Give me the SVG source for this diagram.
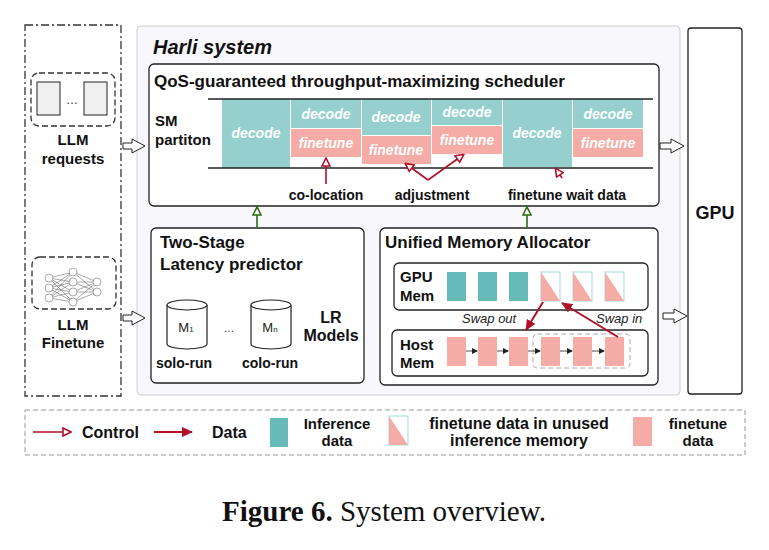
<svg xmlns="http://www.w3.org/2000/svg" width="769" height="550" viewBox="0 0 769 550">
<defs>
<style>
.t{font-family:"Liberation Sans",Arial,sans-serif;font-weight:bold;fill:#111}
.wi{font-family:"Liberation Sans",Arial,sans-serif;font-weight:bold;font-style:italic;fill:#fff;font-size:14px}
.box{fill:#fff;stroke:#222;stroke-width:1.3}
.tl{fill:#95d0cf}.pk{fill:#f5aba6}.td{fill:#66bbb8}
.hol{fill:#fff;stroke:#222;stroke-width:1}
</style>
<marker id="ho" markerWidth="10" markerHeight="10" refX="8" refY="5" orient="auto" markerUnits="userSpaceOnUse"><path d="M1,1 L9,5 L1,9 Z" fill="#fff" stroke="#b0102a" stroke-width="1.6"/></marker>
<marker id="hg" markerWidth="10" markerHeight="10" refX="8" refY="5" orient="auto" markerUnits="userSpaceOnUse"><path d="M1,1 L9,5 L1,9 Z" fill="#fff" stroke="#2e6b12" stroke-width="1.6"/></marker>
<marker id="fd" markerWidth="12" markerHeight="10" refX="10" refY="5" orient="auto" markerUnits="userSpaceOnUse"><path d="M0,0 L11,5 L0,10 Z" fill="#b0102a"/></marker>
<marker id="sm" markerWidth="6" markerHeight="6" refX="5" refY="3" orient="auto" markerUnits="userSpaceOnUse"><path d="M0,0 L6,3 L0,6 Z" fill="#222"/></marker>
</defs>
<rect width="769" height="550" fill="#fff"/>
<g id="inputs">
<rect x="25" y="25" width="96" height="371" fill="none" stroke="#333" stroke-width="1.3" stroke-dasharray="8,3,2,3"/>
<rect x="31" y="73" width="84" height="53" rx="8" fill="none" stroke="#333" stroke-width="1.3" stroke-dasharray="6,3"/>
<rect x="37" y="82" width="23" height="33" fill="#f0f0f0" stroke="#222"/>
<rect x="84" y="82" width="23" height="33" fill="#f0f0f0" stroke="#222"/>
<text x="72" y="104" font-family="Liberation Sans,sans-serif" font-size="12" text-anchor="middle" fill="#333">…</text>
<text class="t" x="73" y="145" font-size="15" text-anchor="middle">LLM</text>
<text class="t" x="73" y="164" font-size="15" text-anchor="middle">requests</text>
<rect x="32" y="257" width="84" height="52" rx="8" fill="none" stroke="#333" stroke-width="1.3" stroke-dasharray="6,3"/>
<g stroke="#555" stroke-width="0.5" fill="#fff">
<path d="M49,278 L73,272 M49,278 L73,282 M49,278 L73,292 M49,288 L73,272 M49,288 L73,282 M49,288 L73,292 M49,288 L73,302 M49,298 L73,282 M49,298 L73,292 M49,298 L73,302 M49,278 L73,302 M49,298 L73,272 M73,272 L97,282 M73,282 L97,282 M73,292 L97,282 M73,302 L97,282 M73,272 L97,292 M73,282 L97,292 M73,292 L97,292 M73,302 L97,292"/>
<circle cx="49" cy="278" r="4"/><circle cx="49" cy="288" r="4"/><circle cx="49" cy="298" r="4"/>
<circle cx="73" cy="272" r="4"/><circle cx="73" cy="282" r="4"/><circle cx="73" cy="292" r="4"/><circle cx="73" cy="302" r="4"/>
<circle cx="97" cy="282" r="4"/><circle cx="97" cy="292" r="4"/>
</g>
<text class="t" x="73" y="330" font-size="15" text-anchor="middle">LLM</text>
<text class="t" x="73" y="348" font-size="15" text-anchor="middle">Finetune</text>
</g>
<g id="harli">
<rect x="137" y="26" width="543" height="369" rx="4" fill="#f8f7fc" stroke="#ccc" stroke-width="1"/>
<text class="t" x="153" y="54" font-size="20" font-style="italic">Harli system</text>
</g>
<g id="scheduler">
<rect class="box" x="149" y="64" width="510" height="142" rx="5"/>
<text class="t" x="154" y="87" font-size="17">QoS-guaranteed throughput-maximizing scheduler</text>
<text class="t" x="155" y="126" font-size="15">SM</text>
<text class="t" x="155" y="145" font-size="15">partiton</text>
<rect class="tl" x="222" y="99" width="68" height="69"/>
<rect class="tl" x="291" y="99" width="70" height="29"/><rect class="pk" x="291" y="129" width="70" height="28"/>
<rect class="tl" x="362" y="99" width="69" height="36"/><rect class="pk" x="362" y="136" width="69" height="28"/>
<rect class="tl" x="432" y="99" width="70" height="26"/><rect class="pk" x="432" y="126" width="70" height="28"/>
<rect class="tl" x="503" y="99" width="69" height="68"/>
<rect class="tl" x="573" y="99" width="70" height="29"/><rect class="pk" x="573" y="129" width="70" height="28"/>
<line x1="208" y1="99" x2="653" y2="99" stroke="#222" stroke-width="1.3"/>
<line x1="208" y1="168" x2="653" y2="168" stroke="#222" stroke-width="1.3"/>
<text class="wi" x="256" y="138" text-anchor="middle">decode</text>
<text class="wi" x="326" y="119" text-anchor="middle">decode</text><text class="wi" x="326" y="148" text-anchor="middle">finetune</text>
<text class="wi" x="396" y="122" text-anchor="middle">decode</text><text class="wi" x="396" y="155" text-anchor="middle">finetune</text>
<text class="wi" x="467" y="117" text-anchor="middle">decode</text><text class="wi" x="467" y="145" text-anchor="middle">finetune</text>
<text class="wi" x="537" y="138" text-anchor="middle">decode</text>
<text class="wi" x="608" y="119" text-anchor="middle">decode</text><text class="wi" x="608" y="148" text-anchor="middle">finetune</text>
<text class="t" x="326" y="200" font-size="14" text-anchor="middle">co-location</text>
<text class="t" x="432" y="200" font-size="14" text-anchor="middle">adjustment</text>
<text class="t" x="567" y="200" font-size="14" text-anchor="middle">finetune wait data</text>
</g>
<g id="predictor">
<rect class="box" x="151" y="228" width="213" height="155" rx="5"/>
<text class="t" x="160" y="248" font-size="17">Two-Stage</text>
<text class="t" x="160" y="270" font-size="17">Latency predictor</text>
<g fill="#fff" stroke="#222" stroke-width="1.2">
<path d="M167,305 L167,344 A20,5 0 0 0 207,344 L207,305"/><ellipse cx="187" cy="305" rx="20" ry="5"/>
<path d="M251,305 L251,344 A20,5 0 0 0 291,344 L291,305"/><ellipse cx="271" cy="305" rx="20" ry="5"/>
</g>
<text x="186" y="332" font-family="Liberation Sans,sans-serif" font-size="13" text-anchor="middle" fill="#222">M<tspan font-size="8">1</tspan></text>
<text x="270" y="332" font-family="Liberation Sans,sans-serif" font-size="13" text-anchor="middle" fill="#222">M<tspan font-size="8">n</tspan></text>
<text x="229" y="332" font-family="Liberation Sans,sans-serif" font-size="11" text-anchor="middle" fill="#333">…</text>
<text class="t" x="331" y="323" font-size="16" text-anchor="middle">LR</text>
<text class="t" x="331" y="341" font-size="16" text-anchor="middle">Models</text>
<text class="t" x="184" y="368" font-size="14" text-anchor="middle">solo-run</text>
<text class="t" x="270" y="368" font-size="14" text-anchor="middle">colo-run</text>
</g>
<g id="allocator">
<rect class="box" x="380" y="228" width="278" height="157" rx="5"/>
<text class="t" x="385" y="248" font-size="17">Unified Memory Allocator</text>
<rect class="box" x="394" y="263" width="254" height="47" rx="5"/>
<text class="t" x="400" y="282" font-size="15">GPU</text><text class="t" x="400" y="301" font-size="15">Mem</text>
<rect class="td" x="447" y="272" width="19" height="29"/>
<rect class="td" x="478" y="272" width="19" height="29"/>
<rect class="td" x="509" y="272" width="19" height="29"/>
<g stroke="#9fdada" stroke-width="1">
<rect x="541" y="272" width="19" height="29" fill="#fff"/><path class="pk" d="M541,272 L560,301 L541,301 Z" stroke="none"/>
<rect x="573" y="272" width="19" height="29" fill="#fff"/><path class="pk" d="M573,272 L592,301 L573,301 Z" stroke="none"/>
<rect x="605" y="272" width="19" height="29" fill="#fff"/><path class="pk" d="M605,272 L624,301 L605,301 Z" stroke="none"/>
</g>
<rect class="box" x="392" y="330" width="256" height="46" rx="5"/>
<text class="t" x="400" y="350" font-size="15">Host</text><text class="t" x="400" y="368" font-size="15">Mem</text>
<rect x="533" y="334" width="97" height="34" rx="4" fill="none" stroke="#aaa" stroke-dasharray="5,3"/>
<rect class="pk" x="447" y="337" width="19" height="29"/><rect class="pk" x="478" y="337" width="19" height="29"/>
<rect class="pk" x="509" y="337" width="19" height="29"/><rect class="pk" x="541" y="337" width="19" height="29"/>
<rect class="pk" x="573" y="337" width="19" height="29"/><rect class="pk" x="605" y="337" width="19" height="29"/>
<g stroke="#222" stroke-width="0.8" marker-end="url(#sm)">
<line x1="466" y1="351" x2="477" y2="351"/><line x1="497" y1="351" x2="508" y2="351"/><line x1="528" y1="351" x2="540" y2="351"/>
<line x1="560" y1="351" x2="572" y2="351"/><line x1="592" y1="351" x2="604" y2="351"/>
</g>
<text x="462" y="323" font-family="Liberation Sans,sans-serif" font-style="italic" font-size="13" fill="#222">Swap out</text>
<text x="596" y="323" font-family="Liberation Sans,sans-serif" font-style="italic" font-size="13" fill="#222">Swap in</text>
</g>
<g id="gpu">
<rect class="box" x="688" y="28" width="54" height="366" rx="3"/>
<text class="t" x="715" y="219" font-size="18" text-anchor="middle">GPU</text>
</g>
<g id="connectors">
<path class="hol" d="M123,143 L132,143 L132,139 L145,146 L132,153 L132,149 L123,149 Z"/>
<path class="hol" d="M123,315 L132,315 L132,311 L145,318 L132,325 L132,321 L123,321 Z"/>
<path class="hol" d="M660,143 L671,143 L671,139 L684,146 L671,153 L671,149 L660,149 Z"/>
<path class="hol" d="M663,313 L674,313 L674,309 L687,316 L674,323 L674,319 L663,319 Z"/>
<g stroke="#2e6b12" stroke-width="1.6" fill="none" marker-end="url(#hg)">
<line x1="257" y1="228" x2="257" y2="208"/><line x1="527" y1="228" x2="527" y2="208"/>
</g>
<g stroke="#b0102a" stroke-width="1.6" fill="none" marker-end="url(#ho)">
<line x1="326" y1="184" x2="326" y2="159"/>
<line x1="428" y1="180" x2="406" y2="164"/>
<line x1="428" y1="180" x2="463" y2="155"/>
<line x1="562" y1="178" x2="556" y2="169"/>
</g>
<g stroke="#b0102a" stroke-width="2" fill="none" marker-end="url(#fd)">
<line x1="543" y1="302" x2="526" y2="330"/>
<line x1="618" y1="337" x2="562" y2="303"/>
</g>
</g>
<g id="legend">
<rect x="25" y="410" width="720" height="45" fill="none" stroke="#999" stroke-dasharray="5,3"/>
<line x1="33" y1="432" x2="70" y2="432" stroke="#b0102a" stroke-width="1.6" marker-end="url(#ho)"/>
<text class="t" x="82" y="438" font-size="16">Control</text>
<line x1="154" y1="432" x2="192" y2="432" stroke="#b0102a" stroke-width="2" marker-end="url(#fd)"/>
<text class="t" x="212" y="438" font-size="16">Data</text>
<rect class="td" x="270" y="418" width="18" height="29"/>
<text class="t" x="337" y="429" font-size="15" text-anchor="middle">Inference</text>
<text class="t" x="337" y="446" font-size="15" text-anchor="middle">data</text>
<rect x="389" y="416" width="19" height="29" fill="#fff" stroke="#9fdada"/><path class="pk" d="M389,416 L408,445 L389,445 Z"/>
<text class="t" x="519" y="429" font-size="16" text-anchor="middle">finetune data in unused</text>
<text class="t" x="519" y="446" font-size="16" text-anchor="middle">inference memory</text>
<rect class="pk" x="633" y="417" width="19" height="29"/>
<text class="t" x="698" y="429" font-size="15" text-anchor="middle">finetune</text>
<text class="t" x="698" y="446" font-size="15" text-anchor="middle">data</text>
</g>
<text x="384" y="521" font-family="Liberation Serif,serif" font-size="29" text-anchor="middle" fill="#111"><tspan font-weight="bold">Figure 6.</tspan> System overview.</text>
</svg>
